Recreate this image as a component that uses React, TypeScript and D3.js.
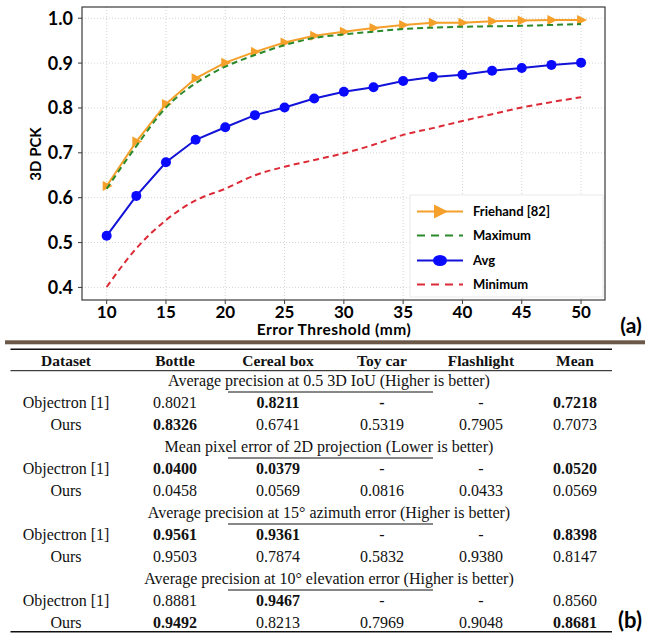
import React from "react";
import * as d3 from "d3";

// curve data
const thresholds = [10, 12.5, 15, 17.5, 20, 22.5, 25, 27.5, 30, 32.5, 35, 37.5, 40, 42.5, 45, 47.5, 50];
const friehand = [0.626, 0.725, 0.809, 0.866, 0.901, 0.925, 0.946, 0.961, 0.970, 0.978, 0.985, 0.990, 0.990, 0.993, 0.995, 0.996, 0.996];
const maximum = [0.620, 0.715, 0.801, 0.855, 0.892, 0.918, 0.940, 0.956, 0.964, 0.970, 0.976, 0.979, 0.981, 0.982, 0.983, 0.985, 0.987];
const avg = [0.515, 0.604, 0.679, 0.729, 0.757, 0.784, 0.801, 0.821, 0.836, 0.846, 0.860, 0.869, 0.874, 0.883, 0.889, 0.896, 0.901];
const minimum = [0.401, 0.487, 0.550, 0.594, 0.620, 0.650, 0.669, 0.684, 0.699, 0.718, 0.740, 0.755, 0.771, 0.786, 0.801, 0.813, 0.824];
const xTicks = [10, 15, 20, 25, 30, 35, 40, 45, 50];
const yTicks = [0.4, 0.5, 0.6, 0.7, 0.8, 0.9, 1.0];
const legendLabels = ["Friehand [82]", "Maximum", "Avg", "Minimum"];

// table data
const columns = ["Dataset", "Bottle", "Cereal box", "Toy car", "Flashlight", "Mean"];
const methods = ["Objectron [1]", "Ours"];
const sectionTitles = [
  "Average precision at 0.5 3D IoU (Higher is better)",
  "Mean pixel error of 2D projection (Lower is better)",
  "Average precision at 15\u00b0 azimuth error (Higher is better)",
  "Average precision at 10\u00b0 elevation error (Higher is better)",
];
const iouValues = [["0.8021", "0.8211", "-", "-", "0.7218"], ["0.8326", "0.6741", "0.5319", "0.7905", "0.7073"]];
const iouBold = [[0, 1, 1, 0, 1], [1, 0, 0, 0, 0]];
const pixelValues = [["0.0400", "0.0379", "-", "-", "0.0520"], ["0.0458", "0.0569", "0.0816", "0.0433", "0.0569"]];
const pixelBold = [[1, 1, 0, 0, 1], [0, 0, 0, 0, 0]];
const azimuthValues = [["0.9561", "0.9361", "-", "-", "0.8398"], ["0.9503", "0.7874", "0.5832", "0.9380", "0.8147"]];
const azimuthBold = [[1, 1, 0, 0, 1], [0, 0, 0, 0, 0]];
const elevationValues = [["0.8881", "0.9467", "-", "-", "0.8560"], ["0.9492", "0.8213", "0.7969", "0.9048", "0.8681"]];
const elevationBold = [[0, 1, 0, 0, 0], [1, 0, 0, 0, 1]];

const W = 645;
const H = 637;
const plot = { left: 82, right: 605, top: 7, bottom: 300 };
const sans = "Lato, 'Open Sans', sans-serif";
const serif = "'Liberation Serif', 'Times New Roman', serif";

const colors = {
  orange: "#f5a02a",
  green: "#2a8a2a",
  blue: "#1212d8",
  red: "#dc2a36",
};

export default function App() {
  const x = d3.scaleLinear().domain([7.92, 52.02]).range([plot.left, plot.right]);
  const y = d3.scaleLinear().domain([0.372, 1.025]).range([plot.bottom, plot.top]);

  const straight = d3.line<number>().x((_, i) => x(thresholds[i])).y((d) => y(d));
  const smooth = d3.line<number>().x((_, i) => x(thresholds[i])).y((d) => y(d)).curve(d3.curveMonotoneX);

  const tri = "M-4,-5L6,0L-4,5Z";
  const bigTri = "M-6,-7L8,0L-6,7Z";

  const legendY = [211.5, 235.5, 260.5, 284.5];

  const colX = [66, 175, 278, 382, 481, 575];
  const sections = [
    { values: iouValues, bold: iouBold },
    { values: pixelValues, bold: pixelBold },
    { values: azimuthValues, bold: azimuthBold },
    { values: elevationValues, bold: elevationBold },
  ];
  const sectionY = [381, 447, 513, 579];

  return (
    <svg width={W} height={H} style={{ position: "absolute", left: 0, top: 0 }}>
      <rect width={W} height={H} fill="#fff" />

      {/* grid */}
      <g stroke="#c8c8c8" strokeWidth={0.8} strokeDasharray="1,2">
        {xTicks.map((t) => (
          <line key={"gx" + t} x1={x(t)} x2={x(t)} y1={plot.top} y2={plot.bottom} />
        ))}
        {yTicks.map((t) => (
          <line key={"gy" + t} x1={plot.left} x2={plot.right} y1={y(t)} y2={y(t)} />
        ))}
      </g>

      {/* curves */}
      <path d={smooth(minimum) || ""} fill="none" stroke={colors.red} strokeWidth={2} strokeDasharray="6,4" />
      <path d={straight(avg) || ""} fill="none" stroke={colors.blue} strokeWidth={2} />
      {avg.map((v, i) => (
        <circle key={"a" + i} cx={x(thresholds[i])} cy={y(v)} r={5} fill="#0a0aff" />
      ))}
      <path d={straight(friehand) || ""} fill="none" stroke={colors.orange} strokeWidth={2} />
      {friehand.map((v, i) => (
        <path key={"f" + i} d={tri} transform={`translate(${x(thresholds[i])},${y(v)})`} fill={colors.orange} />
      ))}
      <path d={smooth(maximum) || ""} fill="none" stroke={colors.green} strokeWidth={2} strokeDasharray="6,4" />

      {/* legend */}
      <rect x={410} y={195} width={193} height={102} fill="#fff" stroke="#eaeaea" strokeWidth={1} />
      {legendLabels.map((lab, i) => {
        const ly = legendY[i];
        const stroke = [colors.orange, colors.green, colors.blue, colors.red][i];
        const dashed = i === 1 || i === 3;
        return (
          <g key={lab}>
            <line x1={417} x2={463} y1={ly} y2={ly} stroke={stroke} strokeWidth={2.2} strokeDasharray={dashed ? "8,6" : undefined} />
            {i === 0 && <path d={bigTri} transform={`translate(440,${ly})`} fill={colors.orange} />}
            {i === 2 && <ellipse cx={440} cy={ly} rx={7} ry={5.5} fill="#0a0aff" />}
            <text x={473} y={ly + 4.5} fontFamily={sans} fontWeight="bold" fontSize={13}>
              {lab}
            </text>
          </g>
        );
      })}

      {/* frame */}
      <rect x={plot.left} y={plot.top} width={plot.right - plot.left} height={plot.bottom - plot.top} fill="none" stroke="#3a3a3a" strokeWidth={1.2} />

      {/* axes */}
      {xTicks.map((t) => (
        <g key={"xt" + t}>
          <line x1={x(t)} x2={x(t)} y1={plot.bottom} y2={plot.bottom + 4} stroke="#3a3a3a" />
          <text x={x(t)} y={317.5} textAnchor="middle" fontFamily={sans} fontWeight="bold" fontSize={17}>
            {t}
          </text>
        </g>
      ))}
      {yTicks.map((t) => (
        <g key={"yt" + t}>
          <line x1={plot.left - 4} x2={plot.left} y1={y(t)} y2={y(t)} stroke="#3a3a3a" />
          <text x={73} y={y(t) + 6.5} textAnchor="end" fontFamily={sans} fontWeight="bold" fontSize={18}>
            {t.toFixed(1)}
          </text>
        </g>
      ))}
      <text x={334} y={334.5} textAnchor="middle" fontFamily={sans} fontWeight="bold" fontSize={15.5} letterSpacing={0.5}>
        Error Threshold (mm)
      </text>
      <text transform="translate(41,154) rotate(-90)" textAnchor="middle" fontFamily={sans} fontWeight="bold" fontSize={15}>
        3D PCK
      </text>
      <text x={631} y={333} textAnchor="middle" fontFamily={sans} fontWeight="bold" fontSize={21}>
        (a)
      </text>

      {/* separator */}
      <rect x={5} y={340.3} width={W - 5} height={4} fill="#6b5848" />

      {/* table */}
      <g fontFamily={serif} fontSize={16} fill="#111">
        <line x1={10.5} x2={612} y1={349.3} y2={349.3} stroke="#111" strokeWidth={1.5} />
        {columns.map((c, i) => (
          <text key={c} x={colX[i]} y={366} textAnchor="middle" fontWeight="bold" fontSize={15.5}>
            {c}
          </text>
        ))}
        <line x1={10.5} x2={612} y1={370.7} y2={370.7} stroke="#111" strokeWidth={1} />
        {sections.map((s, si) => {
          const ty = sectionY[si];
          return (
            <g key={"s" + si}>
              <text x={329} y={ty + 5} textAnchor="middle">
                {sectionTitles[si]}
              </text>
              <line x1={228} x2={433} y1={ty + 11} y2={ty + 11} stroke="#111" strokeWidth={1} />
              {methods.map((m, mi) => {
                const ry = ty + (mi === 0 ? 22 : 44) + 5;
                return (
                  <g key={m}>
                    <text x={colX[0]} y={ry} textAnchor="middle">
                      {m}
                    </text>
                    {s.values[mi].map((v, vi) => (
                      <text key={vi} x={colX[vi + 1]} y={ry} textAnchor="middle" fontWeight={s.bold[mi][vi] ? "bold" : "normal"}>
                        {v}
                      </text>
                    ))}
                  </g>
                );
              })}
            </g>
          );
        })}
        <line x1={10.5} x2={612} y1={631.7} y2={631.7} stroke="#111" strokeWidth={1.5} />
      </g>
      <text x={630} y={628} textAnchor="middle" fontFamily={sans} fontWeight="bold" fontSize={22}>
        (b)
      </text>
    </svg>
  );
}
